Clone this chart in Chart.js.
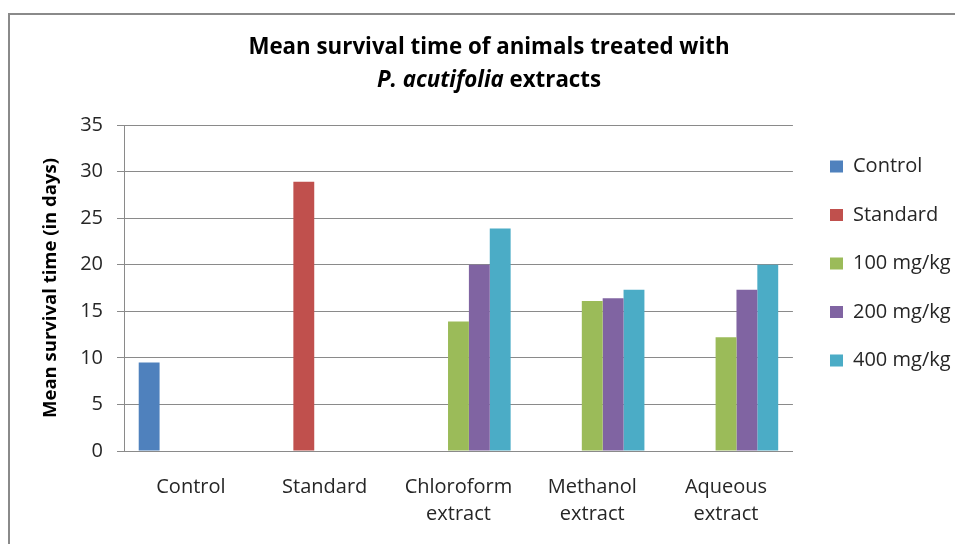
<!DOCTYPE html>
<html><head><meta charset="utf-8">
<script src="https://cdn.jsdelivr.net/npm/chart.js@4.4.1/dist/chart.umd.min.js"></script>
<style>
html,body{margin:0;padding:0;background:#fff;}
#wrap{position:relative;width:955px;height:544px;overflow:hidden;}
#frame{position:absolute;left:8px;top:13px;width:960px;height:560px;border:2px solid #8a8a8a;box-sizing:border-box;}
canvas{position:absolute;left:0;top:0;}
</style></head>
<body>
<div id="wrap"><div id="frame"></div><canvas id="c" width="955" height="544"></canvas></div>
<script>
const categories = [["Control"],["Standard"],["Chloroform","extract"],["Methanol","extract"],["Aqueous","extract"]];
const seriesNames = ["Control","Standard","100 mg/kg","200 mg/kg","400 mg/kg"];
const controlValues  = [9.5, null, null, null, null];
const standardValues = [null, 28.9, null, null, null];
const dose100Values  = [null, null, 13.9, 16.1, 12.2];
const dose200Values  = [null, null, 20.0, 16.4, 17.3];
const dose400Values  = [null, null, 23.9, 17.3, 20.0];
const colors = ["#4F81BD","#C0504D","#9BBB59","#8064A2","#4BACC6"];
const titleLine1 = "Mean survival time of animals treated with";
const titleItalic = "P. acutifolia";
const titleRest = " extracts";
const yTitle = "Mean survival time (in days)";
const FONT = "'Open Sans', Lato, sans-serif";
const TEXT = '#262626';

const titlePlugin = {
  id:'mixedTitle',
  afterLayout(chart){
    const lg = chart.legend;
    if (lg) {
      const dx = 830 - (lg.left + lg.options.labels.padding);
      lg.left += dx; lg.right += dx;
      lg.top += 3;
    }
  },
  afterDraw(chart){
    const ctx = chart.ctx;
    ctx.save();
    ctx.fillStyle = '#000';
    ctx.textBaseline = 'middle';
    const cx = 489;
    const sz = 22.3;
    ctx.font = "bold " + sz + "px " + FONT;
    ctx.textAlign = 'center';
    ctx.fillText(titleLine1, cx, 48);
    ctx.textAlign = 'left';
    const fi = "italic bold " + sz + "px " + FONT, fn = "bold " + sz + "px " + FONT;
    ctx.font = fi; const w1 = ctx.measureText(titleItalic).width;
    ctx.font = fn; const w2 = ctx.measureText(titleRest).width;
    let x = cx - (w1+w2)/2;
    ctx.font = fi; ctx.fillText(titleItalic, x, 81);
    ctx.font = fn; ctx.fillText(titleRest, x + w1, 81);
    ctx.restore();
  }
};

const data = {
  labels: categories,
  datasets: [controlValues, standardValues, dose100Values, dose200Values, dose400Values].map((v,i)=>({
    label: seriesNames[i], data: v, backgroundColor: colors[i], borderWidth: 0,
    categoryPercentage: 0.78, barPercentage: 1.0
  }))
};

new Chart(document.getElementById('c'), {
  type: 'bar',
  data,
  plugins: [titlePlugin],
  options: {
    responsive: false, animation: false,
    layout: { padding: { top: 125, left: 30, right: 3, bottom: 0 } },
    plugins: {
      title: { display: false },
      tooltip: { enabled: false },
      legend: {
        position: 'right', align: 'start',
        labels: { boxWidth: 13, boxHeight: 12, padding: 28.5, color: TEXT, font: { family: FONT, size: 20 } }
      }
    },
    scales: {
      x: {
        afterFit(s){ s.height = 93; },
        grid: { display: false, drawTicks: false },
        border: { display: true, color: '#8a8a8a', width: 1 },
        ticks: { color: TEXT, font: { family: FONT, size: 20, lineHeight: 1.35 }, maxRotation: 0, padding: 23 }
      },
      y: {
        afterFit(s){ s.width = 94; },
        min: 0, max: 35,
        ticks: { stepSize: 5, color: TEXT, font: { family: FONT, size: 20 }, padding: 14 },
        grid: { color: '#8a8a8a', tickLength: 7, lineWidth: 1 },
        border: { display: true, color: '#8a8a8a', width: 1 },
        title: { display: true, text: yTitle, color: '#000', font: { family: FONT, size: 18.5, weight: 'bold' }, padding: { top: 10, bottom: 0 } }
      }
    }
  }
});
</script>
</body></html>
